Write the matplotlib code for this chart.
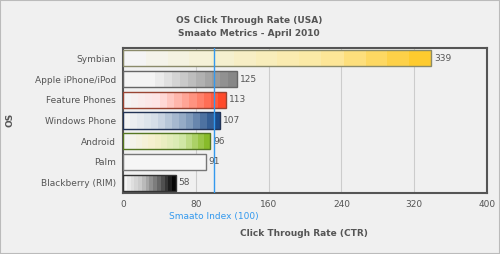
import numpy as np
import matplotlib.pyplot as plt
from matplotlib.colors import LinearSegmentedColormap

oses = ['Symbian', 'Apple iPhone/iPod', 'Feature Phones', 'Windows Phone',
        'Android', 'Palm', 'Blackberry (RIM)']
ctr = [339, 125, 113, 107, 96, 91, 58]
smaato_index = 100
xticks = [0, 80, 160, 240, 320, 400]

# gradient stops (left -> right) and edge colour per bar
grads = [
    (['#f4f4f4', '#f6f0cc', '#fde9a0', '#fecb2e'], '#8a8a6a'),
    (['#f4f4f4', '#f4f4f4', '#cfcfcf', '#a8a8a8', '#878787'], '#666666'),
    (['#f4f4f4', '#ffe4e4', '#ff9a88', '#ff4a2a'], '#994433'),
    (['#f4f4f4', '#d4dde8', '#8aa2c0', '#1c4a88'], '#223355'),
    (['#f4f4f4', '#f6f0cc', '#d7ebb0', '#88bb2a'], '#557722'),
    (['#f6f6f6', '#f6f6f6'], '#777777'),
    (['#f4f4f4', '#c8c8c8', '#707070', '#050505'], '#333333'),
]

txt = '#555555'
plt.rc('font', family='DejaVu Sans')
fig = plt.figure(figsize=(5, 2.54), dpi=100, facecolor='#f0f0f0')
ax = fig.add_axes([0.246, 0.240, 0.728, 0.571])
ax.set_facecolor('#f0f0f0')

y = np.arange(len(oses))
bars = ax.barh(y, ctr, height=0.78, color='none', zorder=3)
for b, v, (stops, ec) in zip(bars, ctr, grads):
    cmap = LinearSegmentedColormap.from_list('g', stops, N=14)
    x0, y0 = b.get_x(), b.get_y()
    im = ax.imshow(np.linspace(0, 1, 200).reshape(1, -1), cmap=cmap,
                   extent=(x0, x0 + b.get_width(), y0, y0 + b.get_height()),
                   aspect='auto', zorder=2, interpolation='nearest')
    im.set_clip_path(b)
    b.set_edgecolor(ec)
    b.set_linewidth(1.0)
    ax.text(v + 3, b.get_y() + b.get_height() / 2, str(v), va='center',
            ha='left', fontsize=6.5, color=txt, zorder=4)

ax.set_ylim(len(oses) - 0.5, -0.5)
ax.set_xlim(0, 400)
ax.set_yticks(y)
ax.set_yticklabels(oses, fontsize=6.5, color=txt)
ax.set_xticks(xticks)
ax.set_xticklabels([str(t) for t in xticks], fontsize=6.5, color=txt)
ax.tick_params(length=0, pad=5)
ax.grid(axis='x', color='#cccccc', linewidth=0.8, zorder=0)
for s in ax.spines.values():
    s.set_color('#555555')
    s.set_linewidth(1.5)

ax.axvline(smaato_index, color='#3399ee', linewidth=1.0, zorder=5)
ax.text(smaato_index, -0.165, 'Smaato Index (100)', transform=ax.get_xaxis_transform(),
        ha='center', va='center', fontsize=6.5, color='#3399ee')

fig.text(0.498, 0.921, 'OS Click Through Rate (USA)', ha='center', va='center',
         fontsize=6.5, fontweight='bold', color=txt)
fig.text(0.498, 0.869, 'Smaato Metrics - April 2010', ha='center', va='center',
         fontsize=6.5, fontweight='bold', color=txt)
fig.text(0.608, 0.079, 'Click Through Rate (CTR)', ha='center', va='center',
         fontsize=6.5, fontweight='bold', color=txt)
fig.text(0.02, 0.53, 'OS', ha='center', va='center', rotation=90,
         fontsize=6.5, fontweight='bold', color=txt)

fig.patches.append(plt.Rectangle((0, 0), 1, 1, transform=fig.transFigure,
                                 fill=False, edgecolor='#bbbbbb', linewidth=1.5))
fig.savefig('out.png', dpi=100, facecolor=fig.get_facecolor())
